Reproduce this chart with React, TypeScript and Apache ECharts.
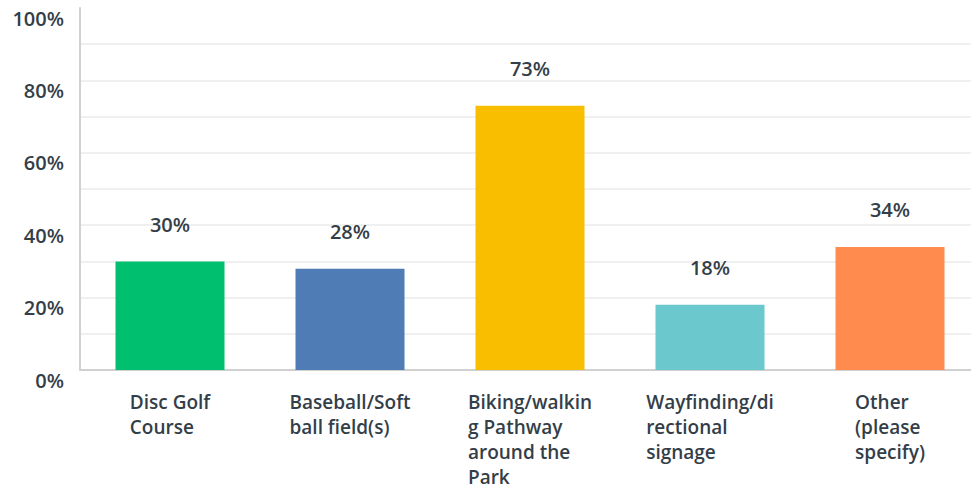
import React, { useEffect, useRef } from "react";
import * as echarts from "echarts";

const categories = [
  "Disc Golf\nCourse",
  "Baseball/Soft\nball field(s)",
  "Biking/walkin\ng Pathway\naround the\nPark",
  "Wayfinding/di\nrectional\nsignage",
  "Other\n(please\nspecify)",
];
const values = [30, 28, 73, 18, 34];
const colors = ["#00bf6f", "#507cb6", "#f9be00", "#6bc8cd", "#ff8b4f"];
const yTicks = [0, 20, 40, 60, 80, 100];

const TEXT = "#333e48";
const FONT = "'Open Sans', sans-serif";

export default function App() {
  const ref = useRef<HTMLDivElement>(null);
  useEffect(() => {
    if (!ref.current) return;
    const chart = echarts.init(ref.current, null, { renderer: "svg" });
    const gridColors = [
      "rgba(0,0,0,0)",
      ...Array(9).fill("#ebebeb"),
      "rgba(0,0,0,0)",
    ];
    chart.setOption({
      animation: false,
      grid: { left: 80, right: 0, top: 8, bottom: 118, containLabel: false },
      xAxis: {
        type: "category",
        data: categories,
        axisLine: { show: true, lineStyle: { color: "#d0d0d0", width: 2 } },
        axisTick: { show: false },
        axisLabel: {
          interval: 0,
          margin: 19,
          color: TEXT,
          fontFamily: FONT,
          fontWeight: 600,
          fontSize: 19,
          lineHeight: 25,
          formatter: (v: string) =>
            v
              .split("\n")
              .map((l) => `{a|${l}}`)
              .join("\n"),
          rich: {
            a: {
              align: "left",
              color: TEXT,
              fontFamily: FONT,
              fontWeight: 600,
              fontSize: 19,
              lineHeight: 25,
            },
          },
        },
      },
      yAxis: {
        type: "value",
        min: 0,
        max: 100,
        interval: 10,
        axisLine: { show: true, lineStyle: { color: "#d0d0d0", width: 2 } },
        axisTick: { show: false },
        splitLine: { show: true, lineStyle: { color: gridColors, width: 1.5 } },
        axisLabel: {
          margin: 16,
          color: TEXT,
          fontFamily: FONT,
          fontWeight: 600,
          fontSize: 20,
          verticalAlign: "top",
          padding: [0, 0, 0, 0],
          formatter: (v: number) => (yTicks.includes(v) ? `${v}%` : ""),
        },
      },
      series: [
        {
          type: "bar",
          barWidth: 109,
          data: values.map((v, i) => ({ value: v, itemStyle: { color: colors[i] } })),
          label: {
            show: true,
            position: "top",
            distance: 27,
            color: TEXT,
            fontFamily: FONT,
            fontWeight: 600,
            fontSize: 20,
            formatter: (p: any) => `${p.value}%`,
          },
        },
      ],
    });
    return () => chart.dispose();
  }, []);
  return (
    <div
      ref={ref}
      style={{ position: "fixed", left: 0, top: 0, width: 980, height: 489, background: "#fff" }}
    />
  );
}
